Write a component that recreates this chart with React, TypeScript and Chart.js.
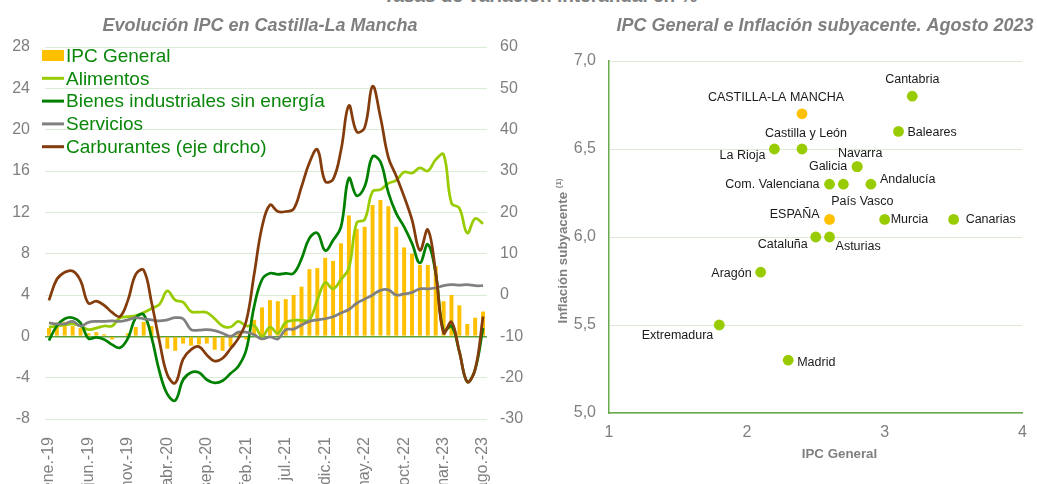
import React, { useEffect, useRef } from 'react';
import { Chart, registerables } from 'chart.js';

Chart.register(...registerables);

const FONT = '"Liberation Sans", Arial, Helvetica, sans-serif';
const GREY = '#7f7f7f';

// ---------- Left chart data ----------
const months = [
  'ene.-19', 'feb.-19', 'mar.-19', 'abr.-19', 'may.-19', 'jun.-19', 'jul.-19', 'ago.-19', 'sep.-19', 'oct.-19', 'nov.-19', 'dic.-19',
  'ene.-20', 'feb.-20', 'mar.-20', 'abr.-20', 'may.-20', 'jun.-20', 'jul.-20', 'ago.-20', 'sep.-20', 'oct.-20', 'nov.-20', 'dic.-20',
  'ene.-21', 'feb.-21', 'mar.-21', 'abr.-21', 'may.-21', 'jun.-21', 'jul.-21', 'ago.-21', 'sep.-21', 'oct.-21', 'nov.-21', 'dic.-21',
  'ene.-22', 'feb.-22', 'mar.-22', 'abr.-22', 'may.-22', 'jun.-22', 'jul.-22', 'ago.-22', 'sep.-22', 'oct.-22', 'nov.-22', 'dic.-22',
  'ene.-23', 'feb.-23', 'mar.-23', 'abr.-23', 'may.-23', 'jun.-23', 'jul.-23', 'ago.-23',
];

const ipcGeneral = [
  0.8, 1.3, 1.4, 1.0, 0.8, 0.3, 0.4, 0.2, -0.3, 0.0, 0.3, 0.9,
  1.4, 1.0, -0.2, -1.2, -1.4, -0.7, -0.9, -0.8, -0.7, -1.3, -1.4, -1.0,
  0.3, -0.3, 1.6, 2.8, 3.5, 3.4, 3.6, 4.0, 4.8, 6.5, 6.6, 7.6,
  7.3, 9.0, 11.7, 10.4, 10.6, 12.7, 13.2, 12.6, 10.6, 8.6, 8.0, 6.9,
  6.9, 6.8, 3.4, 4.0, 3.0, 1.2, 1.8, 2.4,
];

const alimentos = [
  0.9, 1.0, 1.1, 1.2, 1.0, 0.65, 0.8, 1.0, 1.0, 1.8, 1.9, 2.0,
  2.3, 2.7, 3.1, 4.4, 3.5, 3.3, 2.4, 2.35, 2.3, 1.7, 1.0, 0.9,
  1.45, 1.0, 1.05, 0.0, 0.9, 0.3, 1.35, 1.55, 1.55, 1.6, 3.5, 5.2,
  4.6, 5.5, 6.6, 11.0, 11.3, 14.0, 14.2, 14.8, 15.1, 15.9, 15.8, 16.3,
  16.0, 17.1, 17.6, 12.9, 12.4, 10.0, 11.4, 10.9,
];

const bienesIndustriales = [
  -0.4, 1.0, 1.7, 1.8, 1.3, -0.2, -0.1, -0.3, -0.8, -1.1, -0.2, 1.8,
  2.1, -0.1, -3.4, -5.6, -6.2, -4.2, -3.5, -3.5, -4.2, -4.5, -4.3, -3.6,
  -2.9, -1.3, 2.9, 5.5, 6.1, 6.0, 6.1, 6.1, 7.5, 9.5, 10.0, 8.3,
  9.3, 10.6, 15.3, 13.6, 14.5, 17.4, 16.9, 13.9, 11.9, 10.6, 9.0, 7.1,
  8.9, 6.1, 0.5, 1.0, -1.5, -4.4, -3.2, 0.8,
];

const servicios = [
  1.3, 1.2, 1.2, 1.45, 1.0, 1.35, 1.45, 1.45, 1.5, 1.45, 1.6, 1.8,
  1.7, 1.6, 1.5, 1.6, 1.8, 1.7, 0.65, 0.6, 0.65, 0.55, 0.3, 0.0,
  0.4, 0.4, 0.15, -0.25, -0.05, -0.25, 0.65, 0.7, 1.1, 1.45, 1.6, 1.7,
  1.9, 2.25, 2.6, 3.2, 3.6, 4.0, 4.45, 4.5, 4.0, 4.1, 4.25, 4.6,
  4.6, 4.7, 4.9, 5.0, 4.95, 5.0, 4.9, 4.9,
];

// right axis (eje drcho)
const carburantes = [
  -1.3, 3.8, 5.5, 5.8, 3.5, -2.0, -1.5, -2.5, -4.2, -5.2, -1.3, 5.0,
  6.0, -1.8, -11.2, -19.3, -21.3, -15.5, -13.2, -12.5, -14.5, -16.0, -15.3, -13.0,
  -10.5, -6.3, 5.0, 16.5, 21.8, 20.2, 20.2, 20.8, 26.2, 32.0, 35.2, 27.5,
  28.0, 35.0, 45.8, 39.5, 40.5, 50.5, 43.0, 33.3, 28.8, 23.8, 18.2, 10.8,
  15.8, 5.5, -9.2, -6.5, -13.7, -21.0, -18.0, -5.2,
];

const leftTicksStep = 4;
const rightTicksStep = 10;
const monthLabelEvery = 5;

// ---------- Right chart data ----------
const regions = [
  'Cantabria', 'CASTILLA-LA MANCHA', 'Baleares', 'Castilla y León', 'La Rioja', 'Navarra', 'Galicia',
  'Com. Valenciana', 'País Vasco', 'Andalucía', 'ESPAÑA', 'Murcia', 'Canarias', 'Cataluña', 'Asturias',
  'Aragón', 'Extremadura', 'Madrid',
];
const ipcGeneralRegion = [3.2, 2.4, 3.1, 2.4, 2.2, 2.8, 2.8, 2.6, 2.7, 2.9, 2.6, 3.0, 3.5, 2.5, 2.6, 2.1, 1.8, 2.3];
const inflacionSubyacente = [6.8, 6.7, 6.6, 6.5, 6.5, 6.4, 6.4, 6.3, 6.3, 6.3, 6.1, 6.1, 6.1, 6.0, 6.0, 5.8, 5.5, 5.3];
const highlighted = ['CASTILLA-LA MANCHA', 'ESPAÑA'];

// label placement (style only): [dx, dy, align]
const labelPlacement: [number, number, CanvasTextAlign][] = [
  [0, -17, 'center'],
  [-26, -16, 'center'],
  [9, 1, 'left'],
  [4, -15, 'center'],
  [-9, 7, 'right'],
  [3, -13, 'center'],
  [-10, 0, 'right'],
  [-10, 0, 'right'],
  [19, 17, 'center'],
  [9, -5, 'left'],
  [-10, -5, 'right'],
  [6, 0, 'left'],
  [12, 0, 'left'],
  [-8, 8, 'right'],
  [6, 10, 'left'],
  [-9, 1, 'right'],
  [-6, 11, 'right'],
  [9, 2, 'left'],
];

const leftLegendPlugin = {
  id: 'leftLegend',
  afterDraw(chart: any) {
    const ctx = chart.ctx;
    ctx.save();
    const y0 = 55.5;
    const step = 22.8;
    chart.data.datasets.forEach((ds: any, i: number) => {
      const y = y0 + i * step;
      if (ds.type === 'bar') {
        ctx.fillStyle = ds.backgroundColor;
        ctx.fillRect(42, y - 5.5, 22, 11);
      } else {
        ctx.strokeStyle = ds.borderColor;
        ctx.lineWidth = 3;
        ctx.beginPath();
        ctx.moveTo(42, y);
        ctx.lineTo(64, y);
        ctx.stroke();
      }
      ctx.fillStyle = '#0a870a';
      ctx.font = `19px ${FONT}`;
      ctx.textAlign = 'left';
      ctx.textBaseline = 'middle';
      ctx.fillText(ds.label, 66, y + 1);
    });
    ctx.font = `italic bold 18px ${FONT}`;
    ctx.fillStyle = GREY;
    ctx.textAlign = 'center';
    ctx.textBaseline = 'alphabetic';
    ctx.fillText('Evolución IPC en Castilla-La Mancha', 260, 31);
    ctx.restore();
  },
};

const rightDecorPlugin = {
  id: 'rightDecor',
  afterDraw(chart: any) {
    const ctx = chart.ctx;
    ctx.save();
    // title
    ctx.font = `italic bold 18px ${FONT}`;
    ctx.fillStyle = GREY;
    ctx.textAlign = 'center';
    ctx.textBaseline = 'alphabetic';
    ctx.fillText('IPC General e Inflación subyacente. Agosto 2023', 285, 31);

    // point labels
    const meta = chart.getDatasetMeta(0);
    ctx.font = `12.5px ${FONT}`;
    ctx.fillStyle = '#1a1a1a';
    ctx.textBaseline = 'middle';
    meta.data.forEach((pt: any, i: number) => {
      const [dx, dy, align] = labelPlacement[i];
      ctx.textAlign = align;
      ctx.fillText(regions[i], pt.x + dx, pt.y + dy);
    });

    // x title
    ctx.font = `bold 13.3px ${FONT}`;
    ctx.fillStyle = GREY;
    ctx.textAlign = 'center';
    ctx.textBaseline = 'middle';
    ctx.fillText('IPC General', 299.5, 454);

    // y title rotated with superscript
    const main = 'Inflación subyacente ';
    const sup = '(1)';
    ctx.font = `bold 13.3px ${FONT}`;
    const w1 = ctx.measureText(main).width;
    ctx.font = `bold 8px ${FONT}`;
    const w2 = ctx.measureText(sup).width;
    const total = w1 + w2;
    ctx.translate(23, 251);
    ctx.rotate(-Math.PI / 2);
    ctx.textAlign = 'left';
    ctx.textBaseline = 'middle';
    ctx.font = `bold 13.3px ${FONT}`;
    ctx.fillText(main, -total / 2, 0);
    ctx.font = `bold 8px ${FONT}`;
    ctx.fillText(sup, -total / 2 + w1, -4);
    ctx.restore();
  },
};

function LeftChart() {
  const ref = useRef<HTMLCanvasElement>(null);
  useEffect(() => {
    if (!ref.current) return;
    const tickFont = { family: FONT, size: 16 };
    const chart = new Chart(ref.current, {
      type: 'bar',
      data: {
        labels: months,
        datasets: [
          { type: 'bar', label: 'IPC General', data: ipcGeneral, backgroundColor: '#FFC000', yAxisID: 'y', barPercentage: 0.5, categoryPercentage: 1, order: 5 } as any,
          { type: 'line', label: 'Alimentos', data: alimentos, borderColor: '#99CC00', borderWidth: 2.75, pointRadius: 0, tension: 0.4, yAxisID: 'y', order: 4 } as any,
          { type: 'line', label: 'Bienes industriales sin energía', data: bienesIndustriales, borderColor: '#008000', borderWidth: 2.75, pointRadius: 0, tension: 0.4, yAxisID: 'y', order: 3 } as any,
          { type: 'line', label: 'Servicios', data: servicios, borderColor: '#808080', borderWidth: 2.75, pointRadius: 0, tension: 0.4, yAxisID: 'y', order: 2 } as any,
          { type: 'line', label: 'Carburantes (eje drcho)', data: carburantes, borderColor: '#843C0C', borderWidth: 2.75, pointRadius: 0, tension: 0.4, yAxisID: 'y1', order: 1 } as any,
        ],
      },
      options: {
        responsive: false,
        animation: false,
        layout: { padding: { top: 47, left: 0, right: 0, bottom: 0 } },
        plugins: { legend: { display: false }, tooltip: { enabled: false }, title: { display: false } },
        scales: {
          x: {
            grid: { display: false },
            border: { display: false },
            ticks: {
              autoSkip: false,
              minRotation: 90,
              maxRotation: 90,
              padding: 10,
              color: GREY,
              font: tickFont,
              callback: (_v: any, i: number) => (i % monthLabelEvery === 0 ? months[i] : ''),
            },
            afterFit: (s: any) => { s.height = 141; },
          },
          y: {
            position: 'left',
            min: -8,
            max: 28,
            ticks: { stepSize: leftTicksStep, padding: 15, color: GREY, font: tickFont },
            grid: {
              drawTicks: false,
              color: (c: any) => (c.tick && c.tick.value === 0 ? '#5a9e3c' : '#dcebd5'),
              lineWidth: (c: any) => (c.tick && c.tick.value === 0 ? 1.5 : 1),
            },
            border: { display: false },
            afterFit: (s: any) => { s.width = 45; },
          },
          y1: {
            position: 'right',
            min: -30,
            max: 60,
            ticks: { stepSize: rightTicksStep, padding: 13, color: GREY, font: tickFont },
            grid: { display: false, drawTicks: false },
            border: { display: false },
            afterFit: (s: any) => { s.width = 43; },
          },
        },
      } as any,
      plugins: [leftLegendPlugin],
    });
    return () => chart.destroy();
  }, []);
  return <canvas ref={ref} width={530} height={560} style={{ display: 'block' }} />;
}

function RightChart() {
  const ref = useRef<HTMLCanvasElement>(null);
  useEffect(() => {
    if (!ref.current) return;
    const tickFont = { family: FONT, size: 16 };
    const chart = new Chart(ref.current, {
      type: 'scatter',
      data: {
        datasets: [
          {
            label: 'CCAA',
            data: regions.map((_r, i) => ({ x: ipcGeneralRegion[i], y: inflacionSubyacente[i] })),
            pointRadius: 5.4,
            pointHoverRadius: 5.4,
            pointBorderWidth: 0,
            pointBackgroundColor: regions.map((r) => (highlighted.includes(r) ? '#FFC000' : '#99CC00')),
          } as any,
        ],
      },
      options: {
        responsive: false,
        animation: false,
        layout: { padding: { top: 61, left: 0, right: 4, bottom: 0 } },
        plugins: { legend: { display: false }, tooltip: { enabled: false } },
        scales: {
          x: {
            type: 'linear',
            min: 1,
            max: 4,
            ticks: { stepSize: 1, padding: 10, color: GREY, font: tickFont },
            grid: { display: false, drawTicks: false },
            border: { display: true, color: '#6aaa4a', width: 1.5 },
            afterFit: (s: any) => { s.height = 71; },
          },
          y: {
            min: 5,
            max: 7,
            ticks: {
              stepSize: 0.5,
              padding: 13,
              color: GREY,
              font: tickFont,
              callback: (v: any) => Number(v).toFixed(1).replace('.', ','),
            },
            grid: { color: '#dcebd5', drawTicks: false },
            border: { display: true, color: '#6aaa4a', width: 1.5 },
            afterFit: (s: any) => { s.width = 69; },
          },
        },
      } as any,
      plugins: [rightDecorPlugin],
    });
    return () => chart.destroy();
  }, []);
  return <canvas ref={ref} width={497} height={484} style={{ display: 'block' }} />;
}

export default function App() {
  return (
    <div style={{ position: 'fixed', left: 0, top: 0, width: 1037, height: 484, overflow: 'hidden', background: '#ffffff' }}>
      <div
        style={{
          position: 'absolute',
          left: 383,
          top: -14,
          fontFamily: FONT,
          fontWeight: 'bold',
          fontSize: 19,
          lineHeight: '19px',
          color: GREY,
          whiteSpace: 'nowrap',
        }}
      >
        Tasas de variación interanual en %
      </div>
      <div style={{ position: 'absolute', left: 0, top: 0, width: 530, height: 560 }}>
        <LeftChart />
      </div>
      <div style={{ position: 'absolute', left: 540, top: 0, width: 497, height: 484 }}>
        <RightChart />
      </div>
    </div>
  );
}
